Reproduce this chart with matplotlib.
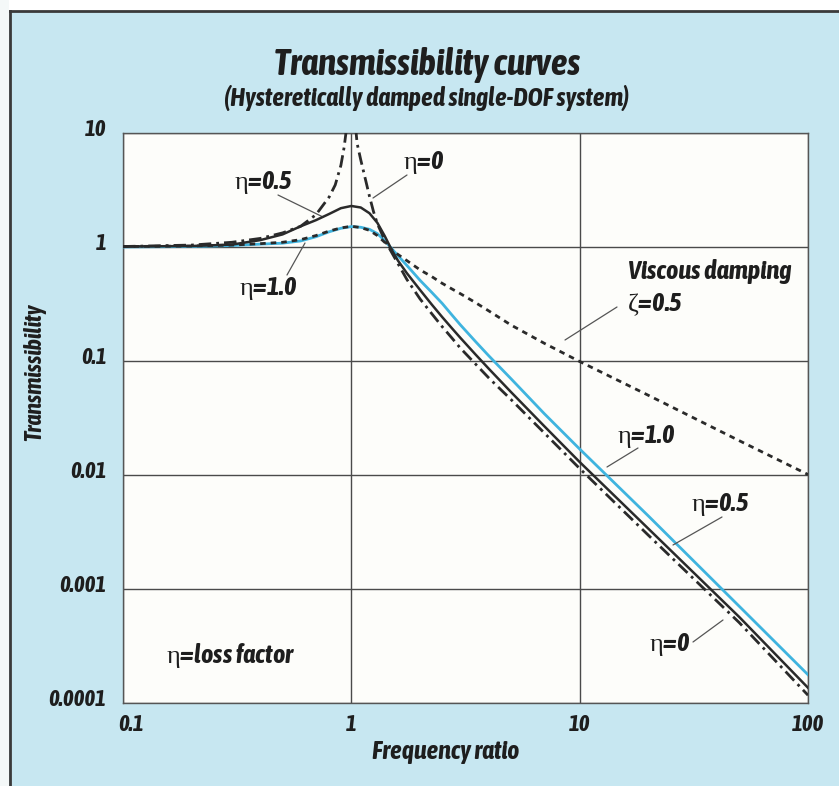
import matplotlib
matplotlib.use("Agg")
import matplotlib.pyplot as plt
from matplotlib import font_manager as fm
from matplotlib.patches import Rectangle
from matplotlib.lines import Line2D
from matplotlib.transforms import ScaledTranslation

# look for a narrow / condensed sans face, the scan uses a condensed bold oblique
narrow_name, narrow_stretch = None, "normal"
for f in fm.fontManager.ttflist:
    if "Serif" in f.name or "Mono" in f.name:
        continue
    st = f.stretch
    cond = ("Narrow" in f.name or "Condensed" in f.name or
            st in ("condensed", "semi-condensed", "extra-condensed", "ultra-condensed") or
            (isinstance(st, int) and st < 500))
    if cond:
        narrow_name = f.name
        narrow_stretch = st if isinstance(st, str) else "condensed"
        if f.style == "italic" and f.weight in ("bold", 700):
            break

if narrow_name:
    plt.rcParams["font.family"] = [narrow_name, "DejaVu Sans"]
    plt.rcParams["font.stretch"] = narrow_stretch
    fs_scale = 1.0
else:
    plt.rcParams["font.family"] = ["DejaVu Sans"]
    fs_scale = 0.78
plt.rcParams["mathtext.fontset"] = "custom"
plt.rcParams["mathtext.rm"] = "Liberation Serif"

# frequency ratio grid shared by the damped curves
r_grid = [0.1, 0.2, 0.3, 0.4, 0.5, 0.6, 0.7, 0.8, 0.9, 1.0, 1.1, 1.2, 1.3, 1.4, 1.5, 1.6,
          1.75, 2.0, 2.25, 2.5, 2.75, 3, 3.5, 4, 5, 7, 10, 20, 50, 100]

# hysteretic eta=0.5 (black solid)
t_eta05 = [1.01, 1.02, 1.05, 1.15, 1.29, 1.52, 1.72, 1.95, 2.19, 2.29, 2.22, 1.98, 1.63, 1.25, 0.95, 0.76,
           0.59, 0.42, 0.313, 0.243, 0.195, 0.160, 0.114, 0.0855, 0.0535, 0.0268, 0.0130, 0.00338,
           5.68e-4, 1.36e-4]

# hysteretic eta=1.0 (blue)
t_eta10 = [1.0, 1.01, 1.03, 1.06, 1.08, 1.13, 1.23, 1.36, 1.46, 1.51, 1.49, 1.43, 1.31, 1.14, 0.97, 0.84,
           0.69, 0.51, 0.40, 0.32, 0.255, 0.208, 0.148, 0.111, 0.070, 0.0345, 0.0169, 0.00437,
           7.05e-4, 1.77e-4]

# viscous zeta=0.5 (dotted)
t_visc = [1.01, 1.02, 1.04, 1.07, 1.10, 1.16, 1.26, 1.38, 1.47, 1.52, 1.48, 1.40, 1.26, 1.10, 0.95, 0.86,
          0.76, 0.63, 0.55, 0.48, 0.43, 0.39, 0.325, 0.275, 0.207, 0.143, 0.099, 0.050, 0.020, 0.0101]

# undamped eta=0 (dash-dot)
r_eta0 = [0.1, 0.2, 0.3, 0.4, 0.5, 0.6, 0.7, 0.8, 0.85, 0.9, 0.93, 0.95, 0.97,
          1.03, 1.06, 1.1, 1.15, 1.2, 1.25, 1.3, 1.4, 1.5, 1.75, 2.0, 2.25, 2.5, 2.75, 3, 3.5, 4,
          5, 10, 20, 50, 100]
t_eta0 = [1.01, 1.04, 1.10, 1.19, 1.33, 1.52, 1.92, 2.75, 3.5, 5.2, 7.5, 10.5, 15,
          15, 8.1, 5.8, 4.0, 2.8, 2.05, 1.6, 1.15, 0.9, 0.52, 0.35, 0.26, 0.2, 0.16, 0.13, 0.094, 0.071,
          0.046, 0.0114, 0.00296, 5.07e-4, 1.17e-4]

x_ticks = [0.1, 1, 10, 100]
x_labels = ["0.1", "1", "10", "100"]
y_ticks = [1e-4, 1e-3, 1e-2, 1e-1, 1, 10]
y_labels = ["0.0001", "0.001", "0.01", "0.1", "1", "10"]

W, H = 839, 786
fig = plt.figure(figsize=(W / 100, H / 100), dpi=100, facecolor="#c7e7f1")

# white margins and the frame lines of the scanned box
fig.patches.append(Rectangle((0, 1 - 11 / H), 1, 11 / H, transform=fig.transFigure,
                             facecolor="white", edgecolor="none"))
fig.patches.append(Rectangle((0, 0), 9 / W, 1, transform=fig.transFigure,
                             facecolor="#f4f8f8", edgecolor="none"))
fig.add_artist(Line2D([10 / W, 1], [1 - 11 / H, 1 - 11 / H], color="#3a3a3a", lw=2))
fig.add_artist(Line2D([10 / W, 10 / W], [0, 1 - 11 / H], color="#3a3a3a", lw=2))

ax = fig.add_axes([123 / W, 1 - 703 / H, 685 / W, 570 / H])
ax.set_facecolor("#fdfdfa")
ax.set_xscale("log")
ax.set_yscale("log")
ax.set_xlim(0.1, 100)
ax.set_ylim(1e-4, 10)
ax.minorticks_off()

ax.set_xticks(x_ticks)
ax.set_xticklabels(x_labels)
ax.set_yticks(y_ticks)
ax.set_yticklabels(y_labels)
ax.tick_params(which="both", length=0, labelsize=16.5 * fs_scale)
ax.tick_params(axis="y", pad=12)
ax.tick_params(axis="x", pad=8)
for lab in ax.get_xticklabels() + ax.get_yticklabels():
    lab.set_fontweight("bold")
    lab.set_fontstyle("italic")
    lab.set_color("#1e1e1e")
for lab in ax.get_yticklabels():
    lab.set_transform(lab.get_transform() + ScaledTranslation(0, 6 / 100, fig.dpi_scale_trans))
xl = ax.get_xticklabels()
xl[0].set_transform(xl[0].get_transform() + ScaledTranslation(8 / 100, 0, fig.dpi_scale_trans))

ax.grid(True, color="#4a4a4a", lw=1.0)
ax.set_axisbelow(True)
for s in ax.spines.values():
    s.set_color("#555555")
    s.set_linewidth(1.0)

ax.plot(r_grid, t_eta10, color="#3fb4df", lw=2.0, zorder=3)
ax.plot(r_grid, t_eta05, color="#2a2a2a", lw=1.8, zorder=4)
ax.plot(r_grid, t_visc, color="#2a2a2a", lw=2.0, ls=(0, (2, 1.8)), zorder=5)
ax.plot(r_eta0, t_eta0, color="#2a2a2a", lw=2.0, ls=(0, (4.5, 1.8, 1, 1.8)), zorder=5)

bi = dict(fontweight="bold", fontstyle="italic", color="#1e1e1e")

fig.text(427 / W, 1 - 65 / H, "Transmissibility curves", ha="center", va="center",
         fontsize=26.5 * fs_scale, **bi)
fig.text(427 / W, 1 - 98 / H, "(Hysteretically damped single-DOF system)", ha="center",
         va="center", fontsize=18.5 * fs_scale, **bi)
fig.text(446 / W, 1 - 752 / H, "Frequency ratio", ha="center", va="center",
         fontsize=18.5 * fs_scale, **bi)
fig.text(35 / W, 1 - 372 / H, "Transmissibility", ha="center", va="center", rotation=90,
         fontsize=17 * fs_scale, **bi)

# labels: text centre (px from top-left), leader start, leader end
labels = [
    (r"$\mathrm{\eta}$=0.5", (263, 183), (278, 195), (323, 217)),
    (r"$\mathrm{\eta}$=0", (424, 163), (407, 175), (373, 198)),
    (r"$\mathrm{\eta}$=1.0", (268, 289), (287, 275), (305, 243)),
    (r"$\mathrm{\zeta}$=0.5", (655, 305), (617, 307), (565, 340)),
    (r"$\mathrm{\eta}$=1.0", (646, 436), (638, 448), (607, 467)),
    (r"$\mathrm{\eta}$=0.5", (720, 505), (722, 517), (673, 545)),
    (r"$\mathrm{\eta}$=0", (670, 645), (693, 642), (723, 620)),
]
for txt, (tx, ty), (x0, y0), (x1, y1) in labels:
    ax.annotate(txt, xy=(tx, H - ty), xycoords="figure pixels", ha="center", va="center",
                fontsize=19 * fs_scale, zorder=6, **bi)
    ax.annotate("", xy=(x1, H - y1), xytext=(x0, H - y0), xycoords="figure pixels",
                textcoords="figure pixels",
                arrowprops=dict(arrowstyle="-", color="#555555", lw=0.9, shrinkA=0, shrinkB=0))

ax.annotate("Viscous damping", xy=(710, H - 272), xycoords="figure pixels", ha="center",
            va="center", fontsize=19 * fs_scale, **bi)
ax.annotate(r"$\mathrm{\eta}$=loss factor", xy=(231, H - 655), xycoords="figure pixels",
            ha="center", va="center", fontsize=19 * fs_scale, **bi)

fig.savefig("out.png", dpi=100, facecolor=fig.get_facecolor())
